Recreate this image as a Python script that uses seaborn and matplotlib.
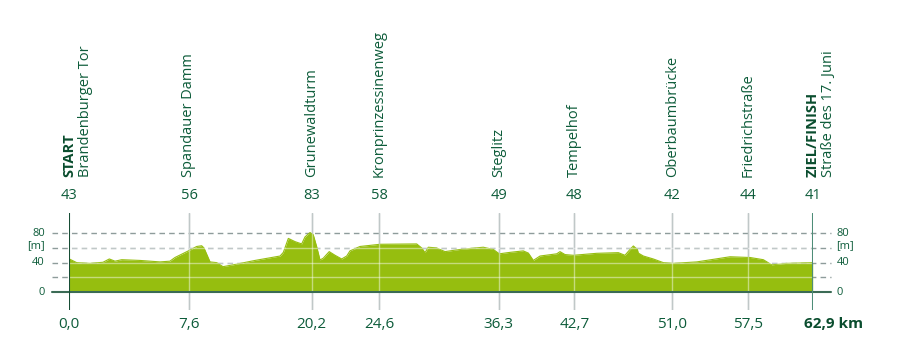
import numpy as np
import matplotlib
matplotlib.use("Agg")
import matplotlib.pyplot as plt
import matplotlib.transforms as mtransforms
import seaborn as sns

# --- data ---
mark_km = [0.0, 7.6, 20.2, 24.6, 36.3, 42.7, 51.0, 57.5, 62.9]
mark_km_labels = ["0,0", "7,6", "20,2", "24,6", "36,3", "42,7", "51,0", "57,5", "62,9 km"]
mark_elev = [43, 56, 83, 58, 49, 48, 42, 44, 41]
mark_names = ["Brandenburger Tor", "Spandauer Damm", "Grunewaldturm", "Kronprinzessinenweg",
              "Steglitz", "Tempelhof", "Oberbaumbrücke", "Friedrichstraße", "Straße des 17. Juni"]
mark_heads = ["START", None, None, None, None, None, None, None, "ZIEL/FINISH"]

profile_km = [0.0, 0.47, 1.31, 2.14, 2.54, 2.90, 3.33, 4.49, 5.76, 6.39, 6.71, 7.56,
              8.39, 8.90, 9.14, 9.76, 10.45, 11.09, 12.12, 14.38, 16.95, 17.29, 17.80,
              18.49, 19.17, 19.51, 20.03, 20.30, 20.52, 20.74, 20.95, 21.34, 21.72,
              22.15, 22.48, 22.69, 23.34, 24.67, 28.26, 28.75, 29.08, 29.40, 30.22,
              31.04, 32.51, 34.79, 35.77, 36.35, 37.26, 38.38, 38.81, 39.23, 39.80,
              41.21, 41.49, 41.91, 42.62, 44.60, 46.43, 46.99, 47.42, 47.70, 48.04,
              48.12, 48.55, 49.39, 50.24, 51.09, 53.10, 55.96, 57.67, 58.78, 59.48,
              60.73, 62.9]
profile_elev = [45, 40, 39, 40.5, 45, 42, 44, 43, 41, 42, 47, 56,
                62, 63, 60, 41, 40, 34.5, 37, 43, 49, 54, 73,
                68.6, 65.5, 75, 81, 78, 62, 43.6, 46, 55, 50,
                45, 49, 56, 62, 65, 65.5, 60, 53.6, 61, 60,
                55, 58, 61, 58, 52, 54, 56, 53, 43, 49,
                52, 55, 51, 50, 52.7, 53.6, 50, 58, 62.7, 58,
                53, 49, 45, 40, 39, 41, 48, 47, 44, 37,
                39, 40]
grid_levels = [20, 40, 60, 80]
axis_labels = [(80, "80"), (63, "[m]"), (40, "40"), (0, "0")]

# --- layout / style ---
mark_px = [69.3, 189.0, 311.7, 379.3, 498.7, 574.3, 672.3, 748.0, 812.7]  # route drawn non-linearly
W, H = 897, 363
txt = "#0d5c3a"
fill_col = "#96be0f"

sns.set_style("white")
plt.rcParams["font.family"] = ["Open Sans", "DejaVu Sans"]

fig = plt.figure(figsize=(W / 100, H / 100), dpi=100)
ax = fig.add_axes([69.3 / W, 53 / H, 743.4 / W, 97.3 / H])


def fwd(x):
    return np.interp(x, mark_km, mark_px)


def inv(p):
    return np.interp(p, mark_px, mark_km)


ax.set_xscale("function", functions=(fwd, inv))
ax.set_xlim(0, 62.9)
ax.set_ylim(-24.5, 108)
ax.set_xticks([])
ax.set_yticks([])
sns.despine(ax=ax, left=True, bottom=True)

# grid (under the fill)
for lv in grid_levels:
    ax.axhline(lv, xmin=-0.0233, xmax=1.0246, color="#8e9c9b", lw=1,
               ls=(0, (4, 3)), clip_on=False, zorder=1)
for i, km in enumerate(mark_km):
    if i in (0, len(mark_km) - 1):
        continue
    ax.axvline(km, color="#8e9c9b", lw=1, zorder=1)

# profile
ax.fill_between(profile_km, 0, profile_elev, color=fill_col, lw=0, zorder=2)
sns.lineplot(x=profile_km, y=profile_elev, color=fill_col, lw=0.8, ax=ax, zorder=2)

# light lines seen through the fill
for lv in grid_levels[:3]:
    ax.axhline(lv, color="white", lw=1, alpha=0.45, zorder=3)
for km in mark_km[1:-1]:
    ax.axvline(km, color="white", lw=1, alpha=0.45, zorder=3)

# zero line and start / finish lines
ax.axhline(0, xmin=-0.0233, xmax=1.0246, color="#3b6b55", lw=1.5, clip_on=False, zorder=4)
ax.axvline(mark_km[0], color="#174d35", lw=1.5, zorder=5)
ax.axvline(mark_km[-1], color="#4e8d78", lw=2.2, zorder=5)

# labels
xt = ax.get_xaxis_transform()
for i, km in enumerate(mark_km):
    ax.text(km, 1.172, str(mark_elev[i]), transform=xt, ha="center", va="center",
            fontsize=10.5, color=txt, clip_on=False)
    if mark_heads[i] is None:
        ax.text(km, 1.372, mark_names[i], transform=xt, rotation=90, ha="center",
                va="bottom", fontsize=10.5, color=txt, clip_on=False)
    else:
        ax.text(km, 1.372, mark_heads[i], transform=xt, rotation=90, ha="center",
                va="bottom", fontsize=10.5, fontweight="bold", color="#0a4d2e", clip_on=False)
        off = mtransforms.offset_copy(xt, fig=fig, x=16, y=0, units="dots")
        ax.text(km, 1.372, mark_names[i], transform=off, rotation=90, ha="center",
                va="bottom", fontsize=10.5, color=txt, clip_on=False)
    if i == len(mark_km) - 1:
        off = mtransforms.offset_copy(xt, fig=fig, x=-9, y=0, units="dots")
        ax.text(km, -0.147, mark_km_labels[i], transform=off, ha="left", va="center",
                fontsize=11, fontweight="bold", color="#0a4d2e", clip_on=False)
    else:
        ax.text(km, -0.147, mark_km_labels[i], transform=xt, ha="center", va="center",
                fontsize=11, color=txt, clip_on=False)

yt = mtransforms.blended_transform_factory(ax.transAxes, ax.transData)
for lv, lab in axis_labels:
    ax.text(-0.0327, lv, lab, transform=yt, ha="right", va="center", fontsize=8,
            color=txt, clip_on=False)
    ax.text(1.032, lv, lab, transform=yt, ha="left", va="center", fontsize=8,
            color=txt, clip_on=False)

fig.savefig("out.png", dpi=100)
